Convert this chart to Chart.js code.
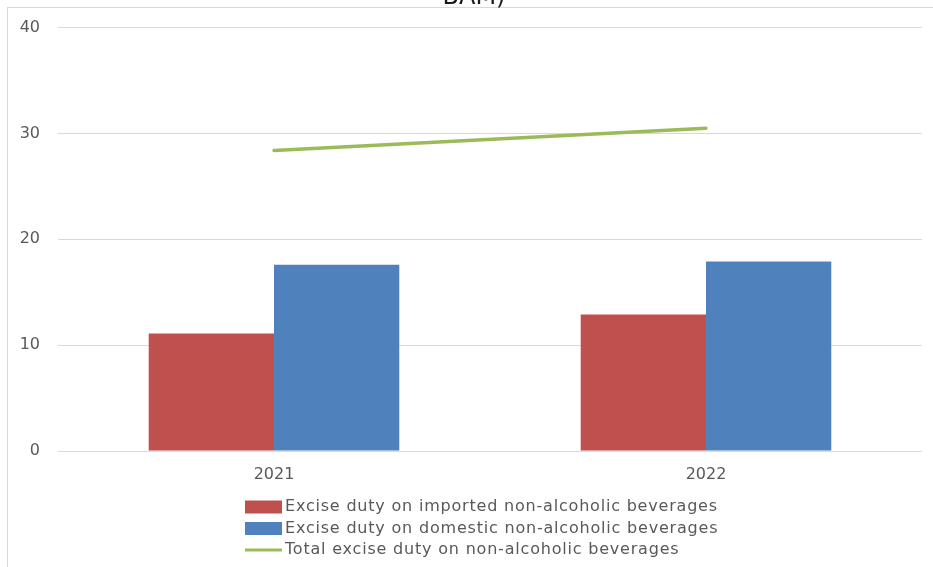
<!DOCTYPE html>
<html>
<head>
<meta charset="utf-8">
<script src="https://cdn.jsdelivr.net/npm/chart.js"></script>
<style>
  body { margin:0; background:#fff; overflow:hidden; }
  #frame { position:absolute; left:7px; top:7px; right:0; bottom:0; border-left:1px solid #d9d9d9; border-top:1px solid #d9d9d9; }
  #box { position:absolute; left:0; top:0; width:933px; height:567px; }
</style>
</head>
<body>
<div id="frame"></div>
<div id="box"><canvas id="exciseChart" width="933" height="567"></canvas></div>
<script>
// excise duty on non-alcoholic beverages, mil. BAM
var years = ["2021", "2022"];
var imported = [11.1, 12.9];
var domestic = [17.6, 17.9];
var total = [28.4, 30.5];
var yTicks = [0, 10, 20, 30, 40];

var titleTail = "BAM)";
var labelImported = "Excise duty on imported non-alcoholic beverages";
var labelDomestic = "Excise duty on domestic non-alcoholic beverages";
var labelTotal = "Total excise duty on non-alcoholic beverages";

var red = '#c0504d';
var blue = '#4f81bd';
var green = '#9bbb59';
var textGrey = '#595959';
var font = '"DejaVu Sans", Verdana, sans-serif';

// last line of the title, the rest sits above the frame
var titleTail_plugin = {
  id: 'titleTail',
  afterDraw: function(chart) {
    var c = chart.ctx;
    c.save();
    c.font = '24px ' + font;
    c.fillStyle = '#1a1a1a';
    c.textAlign = 'center';
    c.textBaseline = 'alphabetic';
    c.fillText(titleTail, 474, 4);
    c.restore();
  }
};

// legend as a stacked list under the axis
var stackedLegend = {
  id: 'stackedLegend',
  afterDraw: function(chart) {
    var c = chart.ctx;
    var x = 245, y = 507, step = 21.5;
    c.save();
    c.font = '16px ' + font;
    c.letterSpacing = '0.8px';
    c.textBaseline = 'middle';
    chart.data.datasets.forEach(function(ds, i) {
      var yy = y + i * step;
      if (ds.type === 'line') {
        c.strokeStyle = ds.borderColor;
        c.lineWidth = 3;
        c.beginPath();
        c.moveTo(x, yy);
        c.lineTo(x + 37, yy);
        c.stroke();
      } else {
        c.fillStyle = ds.backgroundColor;
        c.fillRect(x, yy - 6.5, 37, 13);
      }
      c.fillStyle = textGrey;
      c.fillText(ds.label, x + 40, yy);
    });
    c.restore();
  }
};

var exciseChart = document.getElementById('exciseChart').getContext('2d');
var chart = new Chart(exciseChart, {
  type: 'bar',
  data: {
    labels: years,
    datasets: [{
      label: labelImported,
      data: imported,
      backgroundColor: red,
      order: 2
    }, {
      label: labelDomestic,
      data: domestic,
      backgroundColor: blue,
      order: 2
    }, {
      type: 'line',
      label: labelTotal,
      data: total,
      borderColor: green,
      backgroundColor: green,
      borderWidth: 3.5,
      borderCapStyle: 'round',
      pointRadius: 0,
      tension: 0,
      order: 1
    }]
  },
  options: {
    responsive: false,
    animation: false,
    layout: { padding: { left: 7, right: 11, top: 26, bottom: 76 } },
    datasets: { bar: { categoryPercentage: 0.58, barPercentage: 1 } },
    plugins: {
      legend: { display: false },
      tooltip: { enabled: false }
    },
    scales: {
      x: {
        grid: { display: false },
        border: { display: false },
        ticks: { color: textGrey, font: { family: font, size: 16 }, padding: 6 },
        afterFit: function(s) { s.height = 40; }
      },
      y: {
        min: 0,
        max: 40,
        afterBuildTicks: function(s) { s.ticks = yTicks.map(function(v) { return { value: v }; }); },
        grid: { color: '#d9d9d9', lineWidth: 1, drawTicks: false },
        border: { display: false },
        ticks: { color: textGrey, font: { family: font, size: 16 }, padding: 18 },
        afterFit: function(s) { s.width = 51; }
      }
    }
  },
  plugins: [titleTail_plugin, stackedLegend]
});
</script>
</body>
</html>
